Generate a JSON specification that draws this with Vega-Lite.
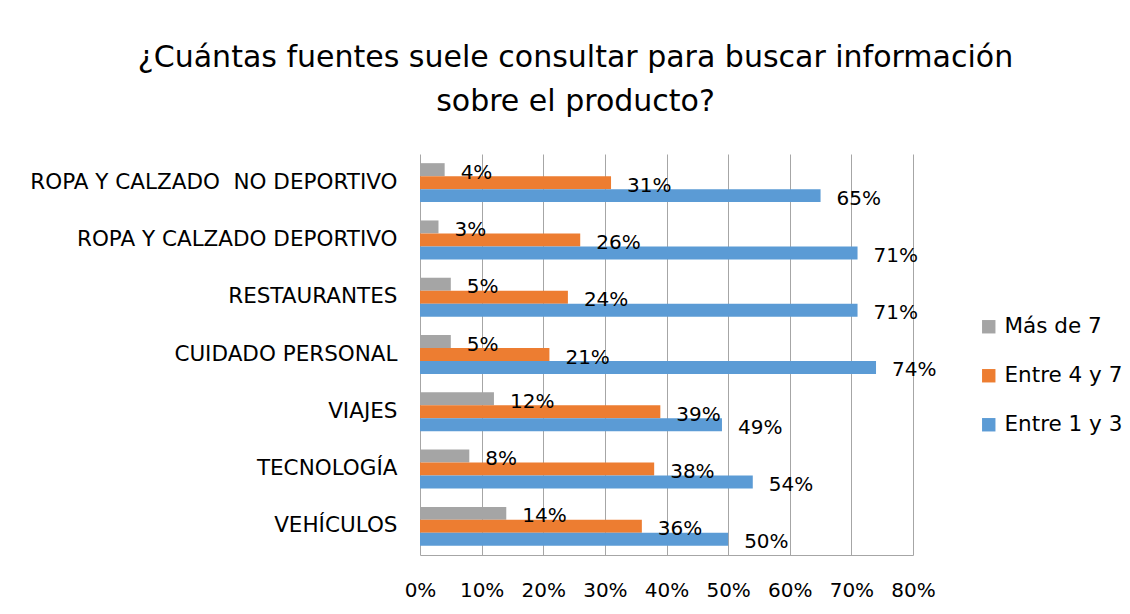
{
  "$schema": "https://vega.github.io/schema/vega-lite/v6.json",
  "width": 493,
  "height": 401,
  "autosize": {"type": "none"},
  "padding": {"left": 420, "top": 154, "right": 217, "bottom": 59},
  "background": "white",
  "config": {"view": {"stroke": null}, "font": "DejaVu Sans"},
  "title": {
    "text": ["¿Cuántas fuentes suele consultar para buscar información", "sobre el producto?"],
    "fontSize": 30,
    "font": "DejaVu Sans",
    "fontWeight": "normal",
    "color": "#000000",
    "lineHeight": 44,
    "anchor": "middle",
    "dx": -91,
    "offset": 37
  },
  "data": {
    "values": [
      {"categoria": "ROPA Y CALZADO  NO DEPORTIVO", "serie": "Más de 7", "valor": 0.04},
      {"categoria": "ROPA Y CALZADO  NO DEPORTIVO", "serie": "Entre 4 y 7", "valor": 0.31},
      {"categoria": "ROPA Y CALZADO  NO DEPORTIVO", "serie": "Entre 1 y 3", "valor": 0.65},
      {"categoria": "ROPA Y CALZADO DEPORTIVO", "serie": "Más de 7", "valor": 0.03},
      {"categoria": "ROPA Y CALZADO DEPORTIVO", "serie": "Entre 4 y 7", "valor": 0.26},
      {"categoria": "ROPA Y CALZADO DEPORTIVO", "serie": "Entre 1 y 3", "valor": 0.71},
      {"categoria": "RESTAURANTES", "serie": "Más de 7", "valor": 0.05},
      {"categoria": "RESTAURANTES", "serie": "Entre 4 y 7", "valor": 0.24},
      {"categoria": "RESTAURANTES", "serie": "Entre 1 y 3", "valor": 0.71},
      {"categoria": "CUIDADO PERSONAL", "serie": "Más de 7", "valor": 0.05},
      {"categoria": "CUIDADO PERSONAL", "serie": "Entre 4 y 7", "valor": 0.21},
      {"categoria": "CUIDADO PERSONAL", "serie": "Entre 1 y 3", "valor": 0.74},
      {"categoria": "VIAJES", "serie": "Más de 7", "valor": 0.12},
      {"categoria": "VIAJES", "serie": "Entre 4 y 7", "valor": 0.39},
      {"categoria": "VIAJES", "serie": "Entre 1 y 3", "valor": 0.49},
      {"categoria": "TECNOLOGÍA", "serie": "Más de 7", "valor": 0.08},
      {"categoria": "TECNOLOGÍA", "serie": "Entre 4 y 7", "valor": 0.38},
      {"categoria": "TECNOLOGÍA", "serie": "Entre 1 y 3", "valor": 0.54},
      {"categoria": "VEHÍCULOS", "serie": "Más de 7", "valor": 0.14},
      {"categoria": "VEHÍCULOS", "serie": "Entre 4 y 7", "valor": 0.36},
      {"categoria": "VEHÍCULOS", "serie": "Entre 1 y 3", "valor": 0.50}
    ]
  },
  "encoding": {
    "y": {
      "field": "categoria",
      "type": "nominal",
      "sort": ["ROPA Y CALZADO  NO DEPORTIVO", "ROPA Y CALZADO DEPORTIVO", "RESTAURANTES", "CUIDADO PERSONAL", "VIAJES", "TECNOLOGÍA", "VEHÍCULOS"],
      "scale": {"paddingInner": 0.32, "paddingOuter": 0.16},
      "axis": {
        "title": null,
        "ticks": false,
        "domain": false,
        "labelExpr": "replace(datum.label, '  ', '\u00a0 ')",
        "labelFontSize": 21.5,
        "labelFont": "DejaVu Sans",
        "labelColor": "#000000",
        "labelPadding": 23,
        "labelLimit": 450
      }
    },
    "yOffset": {
      "field": "serie",
      "type": "nominal",
      "sort": ["Más de 7", "Entre 4 y 7", "Entre 1 y 3"],
      "scale": {"paddingInner": 0, "paddingOuter": 0}
    },
    "x": {
      "field": "valor",
      "type": "quantitative",
      "scale": {"domain": [0, 0.8], "nice": false},
      "axis": {
        "title": null,
        "format": ".0%",
        "values": [0, 0.1, 0.2, 0.3, 0.4, 0.5, 0.6, 0.7, 0.8],
        "grid": true,
        "gridColor": "#a6a6a6",
        "gridWidth": 1,
        "domainColor": "#a6a6a6",
        "ticks": false,
        "labelFlush": false,
        "labelOverlap": false,
        "labelPadding": 25,
        "labelFontSize": 20,
        "labelFont": "DejaVu Sans",
        "labelColor": "#000000"
      }
    }
  },
  "layer": [
    {
      "mark": {"type": "bar"},
      "encoding": {
        "color": {
          "field": "serie",
          "type": "nominal",
          "sort": ["Más de 7", "Entre 4 y 7", "Entre 1 y 3"],
          "scale": {"domain": ["Más de 7", "Entre 4 y 7", "Entre 1 y 3"], "range": ["#a5a5a5", "#ed7d31", "#5b9bd5"]},
          "legend": {
            "orient": "none",
            "legendX": 558,
            "legendY": 162,
            "title": null,
            "labelFontSize": 21.5,
            "labelFont": "DejaVu Sans",
            "labelColor": "#000000",
            "symbolType": "square",
            "symbolSize": 180,
            "symbolStrokeWidth": 0,
            "rowPadding": 26,
            "labelOffset": 5
          }
        }
      }
    },
    {
      "mark": {"type": "text", "align": "left", "baseline": "middle", "dx": 16, "dy": 3, "fontSize": 20, "font": "DejaVu Sans", "color": "#000000"},
      "encoding": {
        "text": {"field": "valor", "type": "quantitative", "format": ".0%"}
      }
    }
  ]
}
